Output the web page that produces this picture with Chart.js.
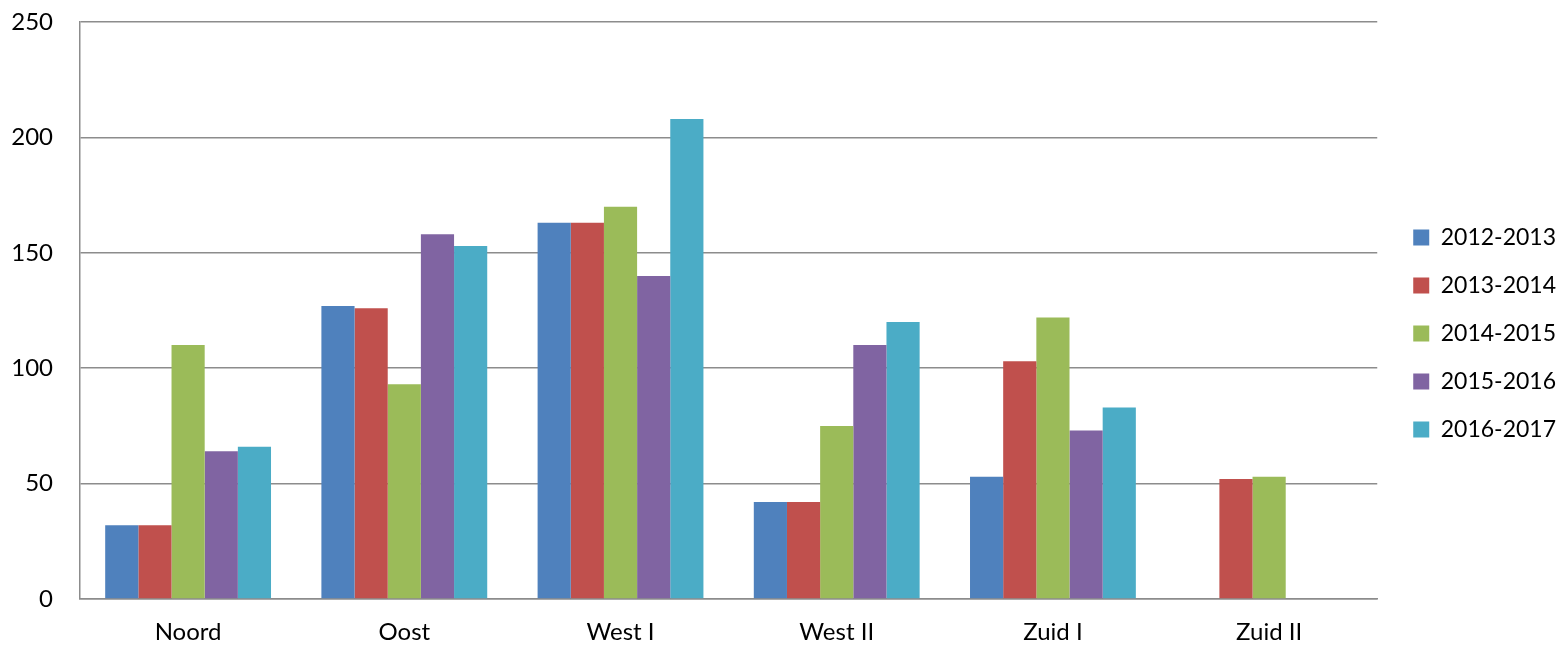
<!DOCTYPE html>
<html>
<head>
<meta charset="utf-8">
<script src="https://cdn.jsdelivr.net/npm/chart.js@4"></script>
<style>
  html, body { margin: 0; padding: 0; background: #fff; }
  #wrap { width: 1561px; height: 645px; }
</style>
</head>
<body>
<div id="wrap"><canvas id="chart"></canvas></div>
<script>
// Regions and school years
const regions = ['Noord', 'Oost', 'West I', 'West II', 'Zuid I', 'Zuid II'];
const years = ['2012-2013', '2013-2014', '2014-2015', '2015-2016', '2016-2017'];

// Values per year, one per region
const y2012 = [32, 127, 163, 42, 53, null];
const y2013 = [32, 126, 163, 42, 103, 52];
const y2014 = [110, 93, 170, 75, 122, 53];
const y2015 = [64, 158, 140, 110, 73, null];
const y2016 = [66, 153, 208, 120, 83, null];

const yTicks = [0, 50, 100, 150, 200, 250];

const colors = ['#4F81BD', '#C0504D', '#9BBB59', '#8064A2', '#4BACC6'];
const series = [y2012, y2013, y2014, y2015, y2016];

const gridColor = '#8c8c8c';
const font = { family: 'Lato, "Open Sans", sans-serif', size: 24 };

new Chart(document.getElementById('chart'), {
  type: 'bar',
  data: {
    labels: regions,
    datasets: series.map((vals, i) => ({
      label: years[i],
      data: vals,
      backgroundColor: colors[i],
      borderWidth: 0
    }))
  },
  options: {
    responsive: true,
    maintainAspectRatio: false,
    animation: false,
    datasets: {
      bar: { barPercentage: 1, categoryPercentage: 0.767 }
    },
    layout: { padding: { top: 22, right: -5, left: 0, bottom: 0 } },
    plugins: {
      tooltip: { enabled: false },
      legend: {
        position: 'right',
        labels: {
          color: '#000',
          font: { family: font.family, size: 23 },
          boxWidth: 16,
          boxHeight: 16,
          padding: 25
        }
      }
    },
    scales: {
      x: {
        grid: { display: false, drawTicks: false },
        border: { display: true, color: gridColor, width: 1.5 },
        ticks: { color: '#000', font: font, padding: 19 },
        afterFit: (axis) => { axis.height = 46; }
      },
      y: {
        min: 0,
        max: 250,
        afterBuildTicks: (axis) => { axis.ticks = yTicks.map(v => ({ value: v })); },
        grid: { color: gridColor, lineWidth: 1.5, drawTicks: false },
        border: { display: true, color: gridColor, width: 1.5 },
        ticks: { color: '#000', font: font, padding: 27 },
        afterFit: (axis) => { axis.width = 80; axis.paddingTop = 0; }
      },
      // empty axis, only keeps space between plot and legend
      gap: {
        type: 'linear',
        position: 'right',
        grid: { display: false },
        border: { display: false },
        ticks: { display: false },
        afterFit: (axis) => { axis.width = 11; }
      }
    }
  }
});
</script>
</body>
</html>
